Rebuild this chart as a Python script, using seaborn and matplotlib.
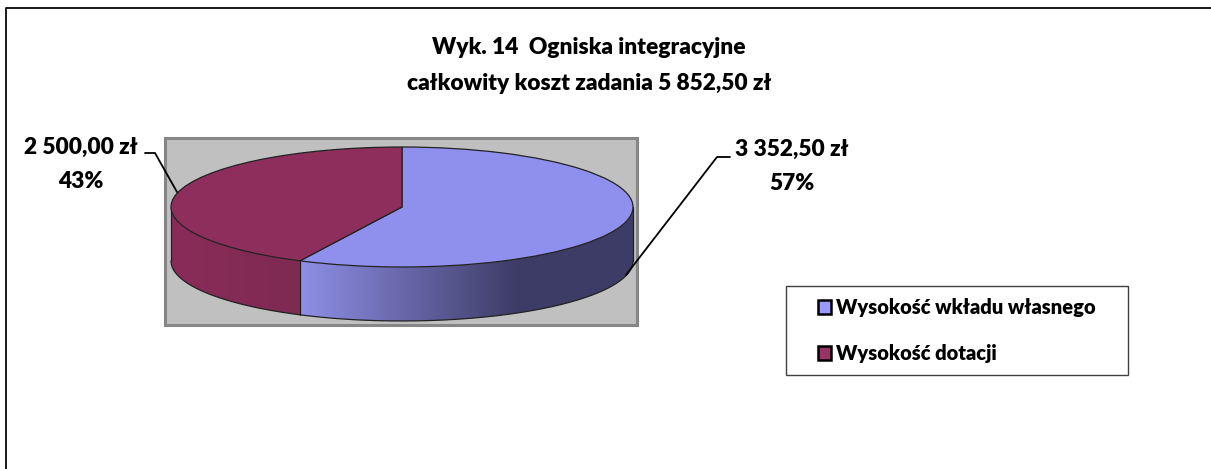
import numpy as np
import matplotlib
matplotlib.use("Agg")
import matplotlib.pyplot as plt
from matplotlib.colors import to_rgb
from matplotlib.lines import Line2D
from matplotlib.patches import Patch, Polygon, Rectangle
import seaborn as sns

title_lines = ["Wyk. 14  Ogniska integracyjne", "całkowity koszt zadania 5 852,50 zł"]
categories = ["Wysokość wkładu własnego", "Wysokość dotacji"]
values = [3352.50, 2500.00]
value_labels = ["3 352,50 zł", "2 500,00 zł"]
pct_labels = ["57%", "43%"]

W, H = 1211, 469
sns.set_theme(style="white")
plt.rcParams["font.family"] = ["Lato", "DejaVu Sans"]
plt.rcParams["font.weight"] = "heavy"

fig = plt.figure(figsize=(W / 100, H / 100), dpi=100, facecolor="white")


def fx(x):
    return x / W


def fy(y):
    return 1 - y / H


def line(pts, color="black", lw=1.3):
    fig.add_artist(Line2D([fx(p[0]) for p in pts], [fy(p[1]) for p in pts],
                          transform=fig.transFigure, color=color, lw=lw, zorder=10))


# outer chart border: only the top and left edges fall inside the picture
line([(6, H + 5), (6, 8.5), (W + 5, 8.5)], color="#1a1a1a", lw=1.4)

# plot area in pixels
L, R, T, B = 165, 637, 138, 325
cx, cy, rx, ry, depth = 402, 207, 231, 60, 54
ax = fig.add_axes([fx(L), fy(B), (R - L) / W, (B - T) / H])
top_colors = ["#8f8fee", "#8d2e5c"]
wedges, _ = ax.pie(values, colors=top_colors, startangle=90, counterclock=False, radius=1, frame=True,
                   wedgeprops=dict(edgecolor="#222222", linewidth=0.9), normalize=True)
for w in wedges:
    w.set_zorder(5)

# side wall: horizontal gradient clipped to the front of the cylinder
d = depth / ry
split = np.radians(90 - 360 * values[0] / sum(values) + 360)
if split > np.pi:
    split -= 2 * np.pi
xsplit = np.cos(split)
xg = np.linspace(-1, 1, 925)
blue_a, blue_b = np.array(to_rgb("#8f8fe8")), np.array(to_rgb("#3d3c66"))
mar_a, mar_b = np.array(to_rgb("#8a2c59")), np.array(to_rgb("#7e2a52"))
tb = np.clip((xg - xsplit) / (0.5 - xsplit), 0, 1)[:, None]
tm = np.clip((xg + 1) / (xsplit + 1), 0, 1)[:, None]
rgb = np.where(xg[:, None] >= xsplit, blue_a + (blue_b - blue_a) * tb, mar_a + (mar_b - mar_a) * tm)
im = ax.imshow(rgb[None, :, :], extent=(-1, 1, -1 - d, 0), aspect="auto", zorder=3, interpolation="nearest")
ts = np.radians(np.linspace(0, -180, 361))
wall = np.vstack([np.column_stack([np.cos(ts), np.sin(ts) - d]),
                  np.column_stack([np.cos(ts[::-1]), np.sin(ts[::-1])])])
clip = Polygon(wall, closed=True, transform=ax.transData, facecolor="none", edgecolor="none")
ax.add_patch(clip)
im.set_clip_path(clip)
ax.plot(np.cos(ts), np.sin(ts) - d, color="#222222", lw=0.9, zorder=4)
for x_edge in (-1, 1):
    ax.plot([x_edge, x_edge], [0, -d], color="#222222", lw=0.9, zorder=4)
ax.plot([xsplit] * 2, [np.sin(split), np.sin(split) - d], color="#222222", lw=0.9, zorder=4)

ax.set_aspect("auto")
ax.set_xlim((L - cx) / rx, (R - cx) / rx)
ax.set_ylim((cy - B) / ry, (cy - T) / ry)
ax.set_xticks([])
ax.set_yticks([])
ax.set_facecolor("#c0c0c0")
for s in ax.spines.values():
    s.set_visible(True)
    s.set_color("#868686")
    s.set_linewidth(2.2)

line([(626, 275), (717, 157), (730, 157)])
line([(177, 192), (155, 153), (145, 153)])

txt = dict(ha="center", va="center", fontweight="heavy", color="black", fontsize=16.4)
fig.text(fx(792), fy(149.5), value_labels[0], **txt)
fig.text(fx(792), fy(183.5), pct_labels[0], **txt)
fig.text(fx(81), fy(147.5), value_labels[1], **txt)
fig.text(fx(81), fy(181.5), pct_labels[1], **txt)

fig.text(fx(589), fy(48), title_lines[0], **txt)
fig.text(fx(589), fy(83), title_lines[1], **txt)

# legend
fig.add_artist(Rectangle((fx(785.5), fy(375)), 342 / W, 89 / H, transform=fig.transFigure,
                         facecolor="white", edgecolor="#404040", linewidth=1.0))
handles = [Patch(facecolor=c, edgecolor="black", linewidth=1.8) for c in ["#9999ff", "#993366"]]
leg = fig.legend(handles, categories, loc="center left", bbox_to_anchor=(fx(818), fy(330.5)),
                 frameon=False, handlelength=0.66, handleheight=0.66,
                 handletextpad=0.25, labelspacing=1.32, borderpad=0, borderaxespad=0,
                 labelcolor="black", prop=dict(family="Lato", weight="heavy", size=14.5))
leg.set_zorder(12)

fig.savefig("out.png", dpi=100, facecolor="white")
